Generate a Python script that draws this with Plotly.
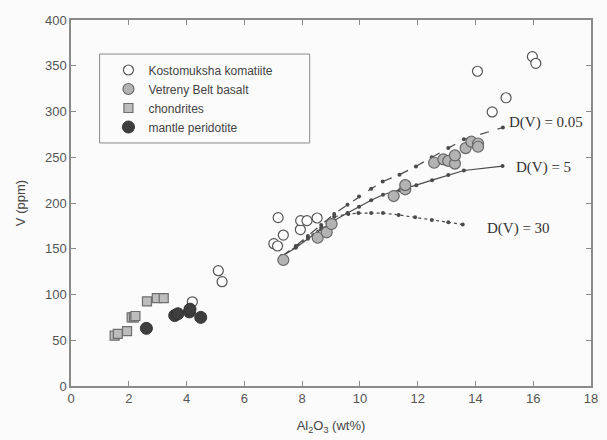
import plotly.graph_objects as go

# Kostomuksha komatiite (open circles)
kos_x = [4.2, 5.1, 5.23, 7.02, 7.15, 7.17, 7.35, 7.94, 7.95, 8.17, 8.52, 14.07, 14.58, 15.06, 15.97, 16.09]
kos_y = [92, 126, 114, 155.5, 153, 184, 165, 171, 180.7, 180.7, 183.6, 344, 299.5, 315, 360, 352.7]

# Vetreny Belt basalt (grey circles)
vet_x = [7.35, 8.54, 8.85, 9.02, 11.17, 11.57, 11.57, 12.57, 12.89, 13.06, 13.29, 13.29, 13.66, 13.86, 14.09, 14.09]
vet_y = [137.7, 162, 168, 177, 207.6, 215, 219.5, 244, 247.7, 246, 243, 252, 260, 267, 265, 261.5]

# chondrites (grey squares)
cho_x = [1.51, 1.62, 1.94, 2.10, 2.18, 2.23, 2.63, 2.97, 3.21]
cho_y = [55, 57, 60, 75, 75, 76.5, 92.5, 96, 96]

# mantle peridotite (dark circles)
man_x = [2.61, 3.59, 3.70, 4.10, 4.12, 4.49]
man_y = [63, 77, 79, 81, 84, 75]

# model curves
d005_x = [7.31, 7.78, 8.2, 8.66, 9.11, 9.57, 9.97, 10.39, 10.79, 11.37, 11.94, 12.49, 13.06, 13.6, 14.95]
d005_y = [142, 153, 164, 176, 188, 198, 207, 215.5, 223.5, 231, 240, 250, 260, 269.6, 282.5]
d5_x = [7.31, 7.78, 8.2, 8.66, 9.11, 9.57, 9.97, 10.39, 10.8, 11.37, 11.95, 12.5, 13.06, 13.6, 14.94]
d5_y = [142, 151, 161, 171, 181, 189, 196, 203, 209, 214, 219.5, 225, 230.5, 235.5, 240.4]
d30_x = [7.31, 7.78, 8.2, 8.66, 9.11, 9.6, 9.95, 10.39, 10.8, 11.34, 11.91, 12.49, 13.06, 13.56]
d30_y = [142, 152, 162, 173, 185, 188, 189, 189, 189, 187, 184.5, 181.5, 179, 176.5]

x_ticks = [0, 2, 4, 6, 8, 10, 12, 14, 16, 18]
y_ticks = [0, 50, 100, 150, 200, 250, 300, 350, 400]

fig = go.Figure()

line_col = "#4a4a4a"
for xs, ys, dash in [(d005_x, d005_y, "dash"), (d5_x, d5_y, "solid"), (d30_x, d30_y, "dot")]:
    fig.add_trace(go.Scatter(x=xs, y=ys, mode="lines+markers", showlegend=False,
                             line=dict(color=line_col, width=1.2, dash=dash),
                             marker=dict(size=4, color=line_col)))

fig.add_trace(go.Scatter(x=kos_x, y=kos_y, mode="markers", name="Kostomuksha komatiite",
                         marker=dict(symbol="circle", size=10, color="white",
                                     line=dict(color="#555555", width=1.2))))
fig.add_trace(go.Scatter(x=vet_x, y=vet_y, mode="markers", name="Vetreny Belt basalt",
                         marker=dict(symbol="circle", size=11, color="#b3b3b3",
                                     line=dict(color="#666666", width=1.2))))
fig.add_trace(go.Scatter(x=cho_x, y=cho_y, mode="markers", name="chondrites",
                         marker=dict(symbol="square", size=9, color="#bdbdbd",
                                     line=dict(color="#6e6e6e", width=1.2))))
fig.add_trace(go.Scatter(x=man_x, y=man_y, mode="markers", name="mantle peridotite",
                         marker=dict(symbol="circle", size=12, color="#3e3e3e",
                                     line=dict(color="#333333", width=1))))

serif = dict(family="Liberation Serif, Times New Roman, serif", size=15, color="#333333")
fig.add_annotation(x=15.1, y=288, text="D(V) = 0.05", showarrow=False, xanchor="left", yanchor="middle", font=serif)
fig.add_annotation(x=15.33, y=239, text="D(V) = 5", showarrow=False, xanchor="left", yanchor="middle", font=serif)
fig.add_annotation(x=14.34, y=172.5, text="D(V) = 30", showarrow=False, xanchor="left", yanchor="middle", font=serif)

# legend frame
fig.add_shape(type="rect", xref="paper", yref="paper", x0=0.055, x1=0.459, y0=0.664, y1=0.907,
              line=dict(color="#8a8a8a", width=1), fillcolor="rgba(0,0,0,0)")

axcol = "#8a8a8a"
fig.update_xaxes(range=[0, 18], tickvals=x_ticks, ticks="inside", ticklen=5, tickcolor=axcol,
                 showline=True, linecolor=axcol, linewidth=1.5, mirror="ticks", showgrid=False,
                 zeroline=False, title=dict(text="Al<sub>2</sub>O<sub>3</sub> (wt%)", standoff=16,
                                           font=dict(size=13, color="#444444")),
                 tickfont=dict(size=13, color="#555555"))
fig.update_yaxes(range=[0, 400], tickvals=y_ticks, ticks="inside", ticklen=5, tickcolor=axcol,
                 showline=True, linecolor=axcol, linewidth=1.5, mirror="ticks", showgrid=False,
                 zeroline=False, title=dict(text="V (ppm)", standoff=16, font=dict(size=13, color="#444444")),
                 tickfont=dict(size=13, color="#555555"))

fig.update_layout(
    width=607, height=440,
    margin=dict(l=71, r=9, t=20, b=54),
    paper_bgcolor="#fbfbfb", plot_bgcolor="#fbfbfb",
    font=dict(family="Liberation Sans, Arial, sans-serif", color="#444444"),
    legend=dict(x=0.072, y=0.903, xanchor="left", yanchor="top", bgcolor="rgba(0,0,0,0)",
                borderwidth=0, font=dict(size=12, color="#444444"), itemwidth=30, tracegroupgap=0),
)

fig.write_html("out.html")
